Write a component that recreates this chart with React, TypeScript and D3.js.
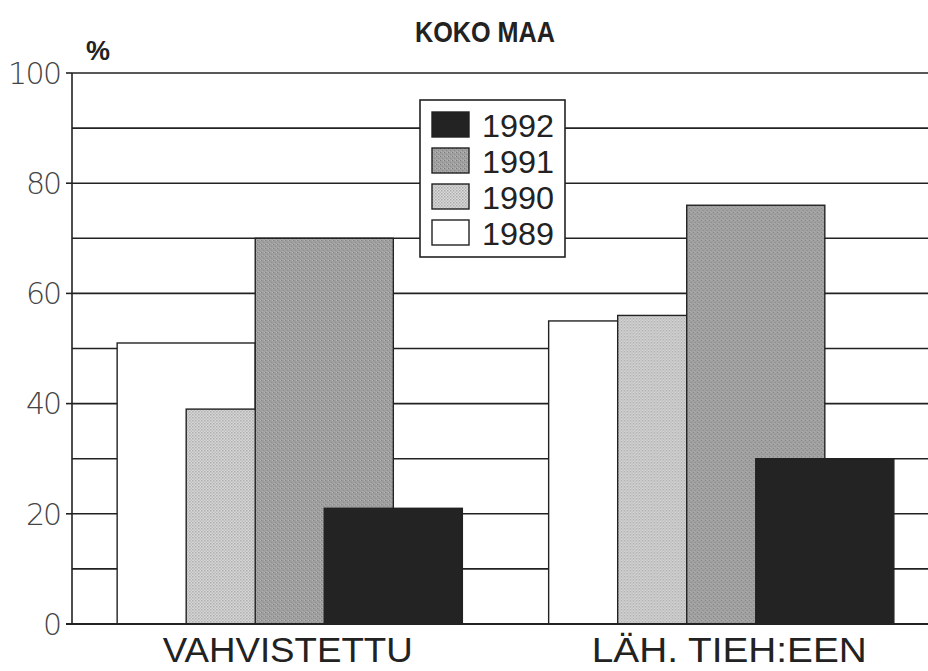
import React from "react";
import * as d3 from "d3";

const categories = ["VAHVISTETTU", "LÄH. TIEH:EEN"];
const years = ["1989", "1990", "1991", "1992"];
const values: Record<string, number[]> = {
  "1989": [51, 55],
  "1990": [39, 56],
  "1991": [70, 76],
  "1992": [21, 30],
};
const yTicks = [0, 20, 40, 60, 80, 100];
const gridValues = [10, 20, 30, 40, 50, 60, 70, 80, 90, 100];
const legendOrder = ["1992", "1991", "1990", "1989"];
const title = "KOKO MAA";

const W = 928;
const H = 671;
const left = 72;
const top = 73;
const bottom = 624;
const right = 928;

const fills: Record<string, string> = {
  "1989": "#ffffff",
  "1990": "url(#dots)",
  "1991": "url(#grain)",
  "1992": "#232323",
};

const labelWidths = [250, 275];

export default function App() {
  const y = d3.scaleLinear().domain([0, 100]).range([bottom, top]);
  const x0 = d3
    .scaleBand<string>()
    .domain(categories)
    .range([74, 937])
    .paddingInner(0.2)
    .paddingOuter(0.1);
  const bw = x0.bandwidth();
  const x1 = d3.scalePoint<string>().domain(years).range([0, bw * 0.6]);
  const barW = bw * 0.4;
  const font = "'Liberation Sans', Arial, Helvetica, sans-serif";

  return (
    <svg
      width={W}
      height={H}
      style={{ position: "absolute", left: 0, top: 0, background: "#fff" }}
      fontFamily={font}
    >
      <defs>
        <pattern id="dots" width="3" height="3" patternUnits="userSpaceOnUse">
          <rect width="3" height="3" fill="#dcdcdc" />
          <rect x="0" y="0" width="1.5" height="1.5" fill="#a8a8a8" />
          <rect x="1.5" y="1.5" width="1.5" height="1.5" fill="#b8b8b8" />
        </pattern>
        <pattern id="grain" width="4" height="4" patternUnits="userSpaceOnUse">
          <rect width="4" height="4" fill="#a0a0a0" />
          <rect x="0" y="0" width="1" height="1" fill="#7a7a7a" />
          <rect x="2" y="2" width="1" height="1" fill="#8a8a8a" />
          <rect x="3" y="0" width="1" height="1" fill="#b8b8b8" />
          <rect x="1" y="3" width="1" height="1" fill="#b0b0b0" />
        </pattern>
      </defs>

      {/* gridlines */}
      {gridValues.map((v) => (
        <line
          key={v}
          x1={left}
          x2={right}
          y1={y(v)}
          y2={y(v)}
          stroke="#222"
          strokeWidth={1.6}
        />
      ))}

      {/* bars */}
      {categories.map((c, ci) => (
        <g key={c} transform={`translate(${x0(c)},0)`}>
          {years.map((yr) => (
            <rect
              key={yr}
              x={x1(yr)}
              y={y(values[yr][ci])}
              width={barW}
              height={y(0) - y(values[yr][ci])}
              fill={fills[yr]}
              stroke="#222"
              strokeWidth={1.4}
            />
          ))}
        </g>
      ))}

      {/* axes */}
      <line x1={left} x2={left} y1={top} y2={bottom} stroke="#222" strokeWidth={1.6} />
      <line x1={left - 6} x2={right} y1={bottom} y2={bottom} stroke="#222" strokeWidth={2} />
      {yTicks.map((t) => (
        <g key={t}>
          <line x1={left - 6} x2={left} y1={y(t)} y2={y(t)} stroke="#222" strokeWidth={1.6} />
          <text
            x={left - 10}
            y={y(t)}
            dy="0.36em"
            textAnchor="end"
            fontSize={30}
            fill="#444"
            fontFamily="'DejaVu Sans', sans-serif"
            fontWeight={200}
            textLength={t === 100 ? 54 : t === 0 ? 18 : 36}
          >
            {t}
          </text>
        </g>
      ))}

      {/* category labels */}
      {categories.map((c, i) => (
        <text
          key={c}
          x={(x0(c) as number) + bw / 2 + (i === 1 ? 8 : -2)}
          y={662}
          textAnchor="middle"
          fontSize={35}
          fill="#222"
          textLength={labelWidths[i]}
          lengthAdjust="spacingAndGlyphs"
        >
          {c}
        </text>
      ))}

      {/* title and unit */}
      <text
        x={485}
        y={42}
        textAnchor="middle"
        fontSize={30}
        fontWeight="bold"
        fill="#222"
        textLength={140}
        lengthAdjust="spacingAndGlyphs"
      >
        {title}
      </text>
      <text x={98} y={60} textAnchor="middle" fontSize={27} fontWeight="bold" fill="#222">
        %
      </text>

      {/* legend */}
      <rect x={420} y={100} width={145} height={157} fill="#fff" stroke="#222" strokeWidth={1.6} />
      {legendOrder.map((yr, i) => (
        <g key={yr} transform={`translate(432,${112 + i * 36})`}>
          <rect width={37} height={25} fill={fills[yr]} stroke="#222" strokeWidth={1.4} />
          <text x={50} y={25} fontSize={32} fill="#222" textLength={72} lengthAdjust="spacingAndGlyphs">
            {yr}
          </text>
        </g>
      ))}
    </svg>
  );
}
